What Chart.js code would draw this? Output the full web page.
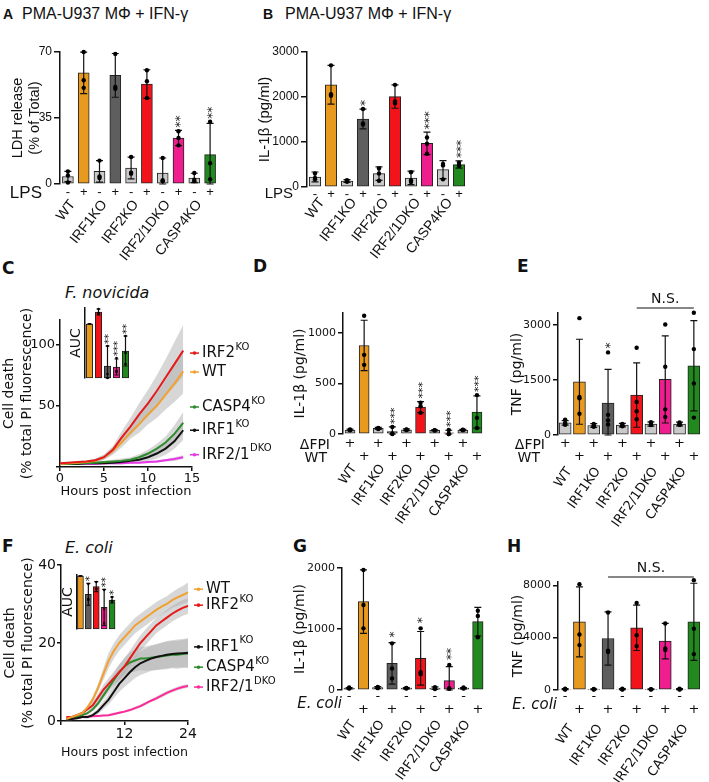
<!DOCTYPE html>
<html><head><meta charset="utf-8">
<script src="https://cdn.jsdelivr.net/npm/chart.js@4.4.0/dist/chart.umd.min.js"></script>
<style>
body{margin:0;background:#fff;}
#page{position:relative;width:709px;height:782px;overflow:hidden;background:#fff;}
#page canvas{position:absolute;}
.t{position:absolute;white-space:nowrap;color:#111;line-height:1;}
</style></head><body><div id="page">
<div class="t" style="left:3px;top:6px;font:bold 14px 'Liberation Sans'">A</div>
<div class="t" style="left:22px;top:5px;font:16px 'Liberation Sans'">PMA-U937 MΦ + IFN-γ</div>
<div class="t" style="left:263px;top:6px;font:bold 14px 'Liberation Sans'">B</div>
<div class="t" style="left:285px;top:5px;font:16px 'Liberation Sans'">PMA-U937 MΦ + IFN-γ</div>
<div class="t" style="left:2px;top:258px;font:bold 17px 'DejaVu Sans'">C</div>
<div class="t" style="left:65px;top:283px;font:italic 16px 'DejaVu Sans'">F. novicida</div>
<div class="t" style="left:253px;top:256px;font:bold 17px 'DejaVu Sans'">D</div>
<div class="t" style="left:517px;top:256px;font:bold 17px 'DejaVu Sans'">E</div>
<div class="t" style="left:2px;top:536px;font:bold 17px 'DejaVu Sans'">F</div>
<div class="t" style="left:65px;top:538px;font:italic 16px 'DejaVu Sans'">E. coli</div>
<div class="t" style="left:293px;top:536px;font:bold 17px 'DejaVu Sans'">G</div>
<div class="t" style="left:507px;top:536px;font:bold 17px 'DejaVu Sans'">H</div>
</div>
<script>
// ================= DATA =================
const genotypes = ['WT','IRF1KO','IRF2KO','IRF2/1DKO','CASP4KO'];
const lpsSigns   = ['-','+','-','+','-','+','-','+','-','+'];
const dfpiSigns  = ['+','','+','','+','','+','','+',''];
const wtSigns    = ['','+','','+','','+','','+','','+'];
const ecoliMinus = ['-','','-','','-','','-','','-',''];
const ecoliPlus  = ['','+','','+','','+','','+','','+'];

// A: LDH release (% of total)
const ldhMean = [4, 58.9, 6.7, 57.6, 8.5, 53, 5.8, 24.4, 3.2, 15.6];
const ldhSD   = [2.7, 11, 5.7, 11.6, 5.8, 7.6, 8, 4, 2.5, 16.5];
const ldhDots = [[6.7,4.5,0.8],[70,55,51],[12.4,4,3.2],[69,51.5,50.5],[14.3,6,5.5],[60.3,54.5,45.6],[13.8,2,1.5],[28,24.4,20.5],[5.8,2.3,1.5],[33,11,2.5]];
const ldhStars = ['','','','','','','','**','','**'];

// B: IL-1b LPS
const il1bLpsMean = [223, 2271, 134, 1511, 298, 2010, 201, 968, 387, 499];
const il1bLpsSD   = [110, 430, 30, 220, 150, 260, 150, 250, 200, 80];
const il1bLpsDots = [[300,200,170],[2703,2060,2030],[150,135,115],[1735,1415,1390],[410,300,140],[2270,1900,1860],[330,150,110],[1100,960,740],[510,480,170],[540,480,470]];
const il1bLpsStars = ['','','','*','','','','***','','***'];

// C: F. novicida cell death kinetics
const hoursC = [0,1,2,3,4,5,6,7,8,9,10,11,12,13,14];
const cIRF2  = [3,3.5,4,4.5,5.5,8,14,24,33,43,52,62,73,84,95];
const cWT    = [2.5,3,3.5,4,5,8,13,20,28,35,43,50,59,68,78];
const cCASP4 = [2.5,2.5,3,3,3.5,4,4.5,5,6,8,11,15,20,27,36];
const cIRF1  = [2.5,2.5,2.5,3,3,3,3.5,4,5,6,8,11,15,21,30];
const cDKO   = [2.5,2.5,2.5,2.5,2.5,3,3,3,3.5,3.5,4,4.5,5.5,6.5,8];
const cIRF2sd  = [1,1,1,1,1.5,2,3,5,7,9,11,13,15,18,21];
const cWTsd    = [1,1,1,1,1.5,2,3,4,5,7,8,10,12,15,18];
const cCASP4sd = [0.5,0.5,0.5,1,1,1,1.5,2,2,2.5,3,4,5,7,9];
const cIRF1sd  = [0.5,0.5,0.5,1,1,1,1.5,2,2,2.5,3,4,5,6,8];
const cDKOsd   = [0.5,0.5,0.5,0.5,0.5,0.5,0.5,0.5,0.5,0.5,1,1,1,1.5,1.5];
// C inset AUC (WT, IRF2KO, IRF1KO, IRF2/1DKO, CASP4KO)
const aucCMean = [54, 66, 12, 11, 27];
const aucCSD   = [0.5, 3, 20, 8, 15];
const aucCDots = [[],[69,65,64],[32,4,0],[20,7,6],[42,25,14]];
const aucCStars = ['','','**','***','**'];

// D: IL-1b F. novicida
const il1bFnMean = [40, 878, 55, 25, 42, 267, 36, 12, 40, 218];
const il1bFnSD   = [8, 250, 10, 45, 8, 55, 6, 25, 6, 160];
const il1bFnDots = [[45,40,36],[1172,785,686],[60,55,50],[70,5,0],[45,42,38],[310,275,210],[38,36,34],[40,0,0],[42,40,38],[386,160,60]];
const il1bFnStars = ['','','','***','','***','','***','','***'];

// E: TNF F. novicida
const tnfFnMean = [330, 1454, 260, 873, 270, 1091, 300, 1518, 300, 1891];
const tnfFnSD   = [60, 1160, 50, 920, 50, 880, 60, 1190, 50, 1230];
const tnfFnDots = [[420,330,280,300],[3190,1040,1000,580],[300,250,230,230],[2255,550,400,290],[300,260,240,250],[2381,900,650,430],[350,300,280,270],[3018,1864,700,490],[340,300,280,280],[3336,2345,1409,475]];
const tnfFnStars = ['','','','*','','','','','',''];

// F: E. coli cell death kinetics
const hoursF = [1,2,3,4,5,6,7,8,9,10,11,12,13,14,15,16,17,18,19,20,21,22,23,24];
const fWT    = [0.5,1,1.5,2,3.5,5.5,8.5,12,15.5,18,20,21.5,23,24.5,25.5,26.5,27.5,28.5,29.3,30,31,31.7,32.3,33];
const fIRF2  = [1,1,1.5,2,3,4,6,8,9.5,11,12.5,14,16,18,20,21.5,23,24.5,25.5,26.5,27.5,28.3,29,29.5];
const fIRF1  = [0.5,0.5,0.7,1,1,1.5,2.5,4,5.5,7.5,9.5,11,12.5,13.8,14.8,15.4,16,16.4,16.7,17,17.2,17.3,17.4,17.5];
const fCASP4 = [0.5,0.7,1,1.5,2,3,4.5,6.5,8.5,10.5,12.5,14,15,15.5,16,16,16.2,16.4,16.6,16.8,17,17,17.2,17.3];
const fDKO   = [0.5,0.6,0.8,1,1.1,1.2,1.3,1.4,1.5,1.8,2.1,2.4,2.8,3.3,3.8,4.5,5.2,5.8,6.5,7.2,7.8,8.3,8.7,9];
const fWTsd    = [0.3,0.3,0.3,0.4,0.5,0.8,1,1.5,2,2,2,2,2,2,2,2,2,2,2,2,2,2.2,2.3,2.5];
const fIRF2sd  = [0.3,0.3,0.3,0.4,0.5,0.8,1,1.3,1.5,1.7,2,2,2,2,2,2,2,2,2,2,2,2,2,2];
const fIRF1sd  = [0.3,0.3,0.3,0.3,0.4,0.5,0.8,1,1.3,1.6,2,2.3,2.6,2.8,3,3.1,3.2,3.3,3.4,3.5,3.5,3.6,3.6,3.7];
const fCASP4sd = [0.3,0.3,0.3,0.3,0.4,0.5,0.8,1,1.3,1.6,2,2.3,2.6,2.8,3,3.1,3.2,3.3,3.4,3.5,3.5,3.6,3.6,3.7];
const fDKOsd   = [0.2,0.2,0.2,0.2,0.2,0.2,0.2,0.2,0.3,0.3,0.3,0.3,0.3,0.4,0.4,0.4,0.4,0.5,0.5,0.5,0.5,0.5,0.5,0.5];
// F inset AUC (WT, IRF1KO, IRF2KO, IRF2/1DKO, CASP4KO)
const aucFMean = [53, 34.7, 42.3, 21.7, 29];
const aucFSD   = [0.5, 11, 5, 18, 3];
const aucFDots = [[],[45,30,29],[47,40,40],[39,20,6],[32,28,27]];
const aucFStars = ['','*','','**','*'];

// G: IL-1b E. coli
const il1bEcMean = [30, 1448, 40, 437, 30, 519, 30, 153, 30, 1120];
const il1bEcSD   = [10, 520, 15, 340, 10, 440, 20, 230, 10, 235];
const il1bEcDots = [[40,30,25],[1967,1393,1011],[50,40,30],[765,354,190],[35,30,25],[1011,290,260],[45,30,15],[410,30,20],[40,30,25],[1300,1213,864]];
const il1bEcStars = ['','','','*','','*','','**','',''];

// H: TNF E. coli
const tnfEcMean = [60, 5206, 50, 3937, 60, 4749, 50, 3733, 60, 5206];
const tnfEcSD   = [40, 2670, 30, 2030, 40, 1730, 30, 1350, 40, 2950];
const tnfEcDots = [[100,60,30],[8076,4241,3428],[80,50,30],[5918,2997,2900],[90,60,40],[6652,4190,3352],[70,50,30],[5079,3175,3048],[100,60,30],[8381,4675,2743]];

// ================= STYLE =================
const LG='#c9c9c9', OR='#E89A1F', DG='#5e5e5e', RD='#F2141A', PK='#EE1E8F', GR='#22891F';
const barColors = [LG,OR,LG,DG,LG,RD,LG,PK,LG,GR];

Chart.defaults.font.family = "'DejaVu Sans', sans-serif";
Chart.defaults.color = '#111';
const page = document.getElementById('page');

function mkCanvas(r){
  const c=document.createElement('canvas');
  c.width=r.w; c.height=r.h;
  c.style.left=r.x+'px'; c.style.top=r.y+'px'; c.style.width=r.w+'px'; c.style.height=r.h+'px';
  page.appendChild(c); return c;
}
function txt(ctx,s,x,y,font,align,base,color,rot){
  ctx.save(); ctx.font=font; ctx.fillStyle=color||'#111';
  ctx.textAlign=align||'center'; ctx.textBaseline=base||'middle';
  ctx.translate(x,y); if(rot) ctx.rotate(rot); ctx.fillText(s,0,0); ctx.restore();
}

function barPanel(o){
  const cv=mkCanvas(o.rect);
  const n=o.mean.length;
  const pts=[]; o.dots.forEach((a,i)=>a.forEach(v=>pts.push({x:i,y:v})));
  const ox=o.rect.x, oy=o.rect.y;
  const ex={
    id:'ex',
    afterDatasetDraw(chart,args){
      if(args.index!==0) return;
      const ctx=chart.ctx, xs=chart.scales.x, ys=chart.scales.y;
      ctx.save(); ctx.strokeStyle='#111'; ctx.lineWidth=o.errW||1.2;
      for(let i=0;i<n;i++){
        if(!o.sd[i]) continue;
        const x=xs.getPixelForValue(i);
        const yt=ys.getPixelForValue(o.mean[i]+o.sd[i]);
        const yb=ys.getPixelForValue(Math.max(0,o.mean[i]-o.sd[i]));
        const cw=o.cap;
        ctx.beginPath(); ctx.moveTo(x,yt); ctx.lineTo(x,yb);
        ctx.moveTo(x-cw,yt); ctx.lineTo(x+cw,yt);
        ctx.moveTo(x-cw,yb); ctx.lineTo(x+cw,yb); ctx.stroke();
      }
      ctx.restore();
    },
    afterDraw(chart){
      const ctx=chart.ctx, xs=chart.scales.x, ys=chart.scales.y;
      if(o.stars) for(let i=0;i<n;i++){
        const s=o.stars[i]; if(!s) continue;
        const top=Math.max(o.mean[i]+o.sd[i], ...o.dots[i]);
        const y=ys.getPixelForValue(top)-o.starGap;
        const x=xs.getPixelForValue(i);
        txt(ctx,s,x+o.starFont*0.22,y,o.starFont+'px DejaVu Sans','left','middle','#111',-Math.PI/2);
      }
      (o.rows||[]).forEach(r=>{
        if(r.label) txt(ctx,r.label,r.lx-ox,r.ly-oy,r.lfont,'right','middle');
        (r.signs||[]).forEach((s,i)=>{ if(s) txt(ctx,s,xs.getPixelForValue(i),r.y-oy,o.signFont,'center','middle'); });
      });
      if(o.cats) o.cats.forEach((c,j)=>{
        const cx=(xs.getPixelForValue(2*j)+xs.getPixelForValue(2*j+1))/2+o.catDx;
        txt(ctx,c,cx,o.catY-oy,o.catFont,'right','middle','#111',-o.catRot*Math.PI/180);
      });
      if(o.ns){
        const x0=xs.getPixelForValue(o.ns.from), x1=xs.getPixelForValue(o.ns.to), y=o.ns.y-oy;
        ctx.save(); ctx.strokeStyle='#111'; ctx.lineWidth=1.2; ctx.beginPath(); ctx.moveTo(x0,y); ctx.lineTo(x1,y); ctx.stroke(); ctx.restore();
        txt(ctx,'N.S.',(x0+x1)/2,y-9,'14px DejaVu Sans','center','middle');
      }
    }
  };
  return new Chart(cv,{
    type:'bar',
    data:{datasets:[
      {type:'bar',data:o.mean.map((v,i)=>({x:i,y:v})),backgroundColor:o.colors,borderColor:'#222',borderWidth:1,borderSkipped:false,barThickness:o.barW,order:2,clip:false},
      {type:'line',data:pts,showLine:false,pointRadius:o.dotR,pointHoverRadius:o.dotR,pointBackgroundColor:'#000',pointBorderColor:'#000',pointBorderWidth:0,order:1,clip:false}
    ]},
    options:{
      responsive:false,animation:false,devicePixelRatio:1,events:[],
      layout:{autoPadding:false,padding:{left:0,top:o.area.t-oy,right:ox+o.rect.w-o.area.r,bottom:oy+o.rect.h-o.area.b}},
      plugins:{legend:{display:false},tooltip:{enabled:false}},
      scales:{
        x:{type:'linear',display:false,offset:false,grid:{offset:false},min:-0.5,max:n-0.5},
        y:{type:'linear',min:0,max:o.yMax,
          afterBuildTicks:s=>{s.ticks=o.yTicks.map(v=>({value:v}));},
          afterFit:s=>{s.width=o.area.l-ox;},
          border:{display:true,color:'#111',width:1.5},
          grid:{display:!o.noTicks,drawOnChartArea:false,drawTicks:true,tickLength:o.tickLen||5,color:'#111',lineWidth:1.5},
          ticks:{display:!o.noTicks,font:o.tickFont,color:'#111',padding:2,callback:v=>String(v)},
          title:{display:true,text:o.title,font:o.titleFont,color:'#111',padding:{top:o.titlePad,bottom:0}}
        }
      }
    },
    plugins:[ex]
  });
}

function linePanel(o){
  const cv=mkCanvas(o.rect);
  const ox=o.rect.x, oy=o.rect.y;
  const ds=[];
  o.series.forEach(s=>{
    ds.push({data:o.hours.map((h,k)=>({x:h,y:s.v[k]-s.sd[k]})),borderWidth:0,pointRadius:0,fill:false,order:5,borderColor:'rgba(0,0,0,0)'});
    ds.push({data:o.hours.map((h,k)=>({x:h,y:s.v[k]+s.sd[k]})),borderWidth:0,pointRadius:0,fill:'-1',backgroundColor:'rgba(175,175,175,0.5)',order:5,borderColor:'rgba(0,0,0,0)'});
  });
  o.series.forEach(s=>ds.push({data:o.hours.map((h,k)=>({x:h,y:s.v[k]})),borderColor:s.color,borderWidth:2,pointRadius:0,fill:false,order:1,tension:0}));
  const ex={id:'lx',afterDraw(chart){
    const ctx=chart.ctx, ys=chart.scales.y, a=chart.chartArea;
    o.series.forEach(s=>{
      const y=ys.getPixelForValue(s.ly), x0=a.right+o.lblDx;
      ctx.save(); ctx.strokeStyle=s.color; ctx.fillStyle=s.color; ctx.lineWidth=1.5;
      ctx.beginPath(); ctx.moveTo(x0,y); ctx.lineTo(x0+9,y); ctx.stroke();
      ctx.beginPath(); ctx.arc(x0+4.5,y,1.8,0,2*Math.PI); ctx.fill(); ctx.restore();
      ctx.save(); ctx.font='15px DejaVu Sans'; ctx.fillStyle='#111'; ctx.textBaseline='middle'; ctx.textAlign='left';
      ctx.fillText(s.name,x0+12,y); const w=ctx.measureText(s.name).width;
      if(s.sup){ ctx.font='10px DejaVu Sans'; ctx.fillText(s.sup,x0+12+w+0.5,y-6); }
      ctx.restore();
    });
  }};
  return new Chart(cv,{type:'line',data:{datasets:ds},options:{
    responsive:false,animation:false,devicePixelRatio:1,events:[],
    layout:{autoPadding:false,padding:{left:0,top:o.area.t-oy,right:ox+o.rect.w-o.area.r,bottom:oy+o.rect.h-o.area.b-o.xH}},
    plugins:{legend:{display:false},tooltip:{enabled:false}},
    scales:{
      x:{type:'linear',min:0,max:o.xMax,offset:false,
        afterBuildTicks:s=>{s.ticks=o.xTicks.map(v=>({value:v}));},
        afterFit:s=>{s.height=o.xH;},
        border:{display:true,color:'#111',width:1.5},
        grid:{display:true,drawOnChartArea:false,drawTicks:true,tickLength:4,color:'#111',lineWidth:1.5},
        ticks:{font:{size:o.tickSize},color:'#111',padding:o.xTickPad,maxRotation:0,autoSkip:false,callback:v=>o.xHide.includes(v)?'':String(v)},
        title:{display:true,text:'Hours post infection',font:{size:13},color:'#111',padding:{top:0,bottom:o.xTitlePad}}},
      y:{type:'linear',min:0,max:o.yMax,
        afterBuildTicks:s=>{s.ticks=o.yTicks.map(v=>({value:v}));},
        afterFit:s=>{s.width=o.area.l-ox;},
        border:{display:true,color:'#111',width:1.5},
        grid:{display:true,drawOnChartArea:false,drawTicks:true,tickLength:4,color:'#111',lineWidth:1.5},
        ticks:{font:{size:o.tickSize},color:'#111',padding:1,callback:v=>o.yHide.includes(v)?'':String(v)},
        title:{display:true,text:['Cell death','(% total PI fluorescence)'],font:{size:14,lineHeight:1.3},color:'#111',padding:{top:o.titlePad,bottom:0}}}
    }
  },plugins:[ex]});
}

// ================= PANELS =================
const fLib=(s)=>({family:'Liberation Sans',size:s});
const fDej=(s)=>({family:'DejaVu Sans',size:s});

// A
barPanel({rect:{x:0,y:30,w:232,h:240},area:{l:60,t:52,r:218,b:184},
  mean:ldhMean,sd:ldhSD,dots:ldhDots,stars:ldhStars,colors:barColors,
  yMax:70,yTicks:[0,35,70],tickLen:6,tickFont:fLib(12),
  title:['LDH release','(% of Total)'],titleFont:{family:'Liberation Sans',size:14.5,lineHeight:1.15},titlePad:9.7,
  barW:11,dotR:2.2,cap:3.5,starFont:12,starGap:3,
  rows:[{signs:lpsSigns,y:192,label:'LPS',lx:42,ly:193,lfont:'17px Liberation Sans'}],signFont:'13px Liberation Sans',
  cats:genotypes,catY:202,catDx:-3,catRot:52,catFont:'14px Liberation Sans'});

// B
barPanel({rect:{x:232,y:30,w:240,h:240},area:{l:307,t:52,r:467,b:187},
  mean:il1bLpsMean,sd:il1bLpsSD,dots:il1bLpsDots,stars:il1bLpsStars,colors:barColors,
  yMax:3000,yTicks:[0,1000,2000,3000],tickLen:6,tickFont:fLib(12),
  title:'IL-1β (pg/ml)',titleFont:{family:'Liberation Sans',size:15,lineHeight:1.2},titlePad:24,
  barW:11.5,dotR:2.2,cap:3.5,starFont:12,starGap:3,
  rows:[{signs:lpsSigns,y:194,label:'LPS',lx:293,ly:194,lfont:'15px Liberation Sans'}],signFont:'13px Liberation Sans',
  cats:genotypes,catY:200,catDx:-1,catRot:52,catFont:'14px Liberation Sans'});

// C main
linePanel({rect:{x:0,y:295,w:292,h:215},area:{l:60,t:320,r:192,b:467},
  hours:hoursC,xMax:15,xTicks:[0,5,10,15],xHide:[],yMax:120,yTicks:[0,50,100],yHide:[0],
  xH:36,xTickPad:0,xTitlePad:3.2,tickSize:13,titlePad:0,lblDx:-2,
  series:[
    {v:cIRF2,sd:cIRF2sd,color:'#E51A1A',name:'IRF2',sup:'KO',ly:93},
    {v:cWT,sd:cWTsd,color:'#F2A030',name:'WT',sup:'',ly:77.5},
    {v:cCASP4,sd:cCASP4sd,color:'#2E8B2E',name:'CASP4',sup:'KO',ly:49},
    {v:cIRF1,sd:cIRF1sd,color:'#111111',name:'IRF1',sup:'KO',ly:30},
    {v:cDKO,sd:cDKOsd,color:'#E835E8',name:'IRF2/1',sup:'DKO',ly:10}
  ]});
// C inset
barPanel({rect:{x:64,y:298,w:72,h:90},area:{l:85,t:308,r:130,b:378},
  mean:aucCMean,sd:aucCSD,dots:aucCDots,stars:aucCStars,colors:[OR,RD,DG,PK,GR],
  yMax:70,yTicks:[0],noTicks:true,tickFont:fDej(10),
  title:'AUC',titleFont:{family:'DejaVu Sans',size:14,lineHeight:1.2},titlePad:3.6,
  barW:6.5,dotR:1.3,cap:2,starFont:10,starGap:2});

// D
barPanel({rect:{x:236,y:292,w:254,h:248},area:{l:343,t:313,r:484,b:434},
  mean:il1bFnMean,sd:il1bFnSD,dots:il1bFnDots,stars:il1bFnStars,colors:barColors,
  yMax:1200,yTicks:[0,500,1000],tickLen:5,tickFont:fDej(11),
  title:'IL-1β (pg/ml)',titleFont:{family:'DejaVu Sans',size:14,lineHeight:1.2},titlePad:55.6,
  barW:10,dotR:2.2,cap:3.5,starFont:11,starGap:3,
  rows:[{signs:dfpiSigns,y:444,label:'ΔFPI',lx:330,ly:445,lfont:'14px DejaVu Sans'},
        {signs:wtSigns,y:457,label:'WT',lx:327,ly:458,lfont:'14px DejaVu Sans'}],signFont:'13px DejaVu Sans',
  cats:genotypes,catY:466,catDx:-3,catRot:55,catFont:'13px DejaVu Sans'});

// E
barPanel({rect:{x:476,y:280,w:233,h:260},area:{l:558,t:313,r:701,b:435},
  mean:tnfFnMean,sd:tnfFnSD,dots:tnfFnDots,stars:tnfFnStars,colors:barColors,
  yMax:3330,yTicks:[0,1500,3000],tickLen:5,tickFont:fDej(11),
  title:'TNF (pg/ml)',titleFont:{family:'DejaVu Sans',size:14,lineHeight:1.2},titlePad:32.6,
  barW:12,dotR:2.2,cap:3.5,starFont:12,starGap:4,
  rows:[{signs:dfpiSigns,y:444,label:'ΔFPI',lx:545,ly:445,lfont:'14px DejaVu Sans'},
        {signs:wtSigns,y:457,label:'WT',lx:540,ly:458,lfont:'14px DejaVu Sans'}],signFont:'13px DejaVu Sans',
  cats:genotypes,catY:469,catDx:-3,catRot:55,catFont:'13px DejaVu Sans',
  ns:{from:5,to:9,y:308}});

// F main
linePanel({rect:{x:0,y:550,w:292,h:232},area:{l:61,t:565,r:188,b:721},
  hours:hoursF,xMax:24,xTicks:[0,12,24],xHide:[0],yMax:40,yTicks:[0,20,40],yHide:[],
  xH:45,xTickPad:1,xTitlePad:5.2,tickSize:14,titlePad:1,lblDx:6,
  series:[
    {v:fWT,sd:fWTsd,color:'#F2A030',name:'WT',sup:'',ly:33.8},
    {v:fIRF2,sd:fIRF2sd,color:'#E51A1A',name:'IRF2',sup:'KO',ly:29.7},
    {v:fIRF1,sd:fIRF1sd,color:'#111111',name:'IRF1',sup:'KO',ly:19},
    {v:fCASP4,sd:fCASP4sd,color:'#2E8B2E',name:'CASP4',sup:'KO',ly:13.8},
    {v:fDKO,sd:fDKOsd,color:'#FF2A9A',name:'IRF2/1',sup:'DKO',ly:8.7}
  ]});
// F inset
barPanel({rect:{x:50,y:568,w:75,h:70},area:{l:76.5,t:575,r:116,b:629},
  mean:aucFMean,sd:aucFSD,dots:aucFDots,stars:aucFStars,colors:[OR,DG,RD,PK,GR],
  yMax:54,yTicks:[0],noTicks:true,tickFont:fDej(10),
  title:'AUC',titleFont:{family:'DejaVu Sans',size:14,lineHeight:1.2},titlePad:10.1,
  barW:6,dotR:1.2,cap:2,starFont:10,starGap:2});

// G
barPanel({rect:{x:236,y:545,w:250,h:237},area:{l:342,t:568,r:485,b:690},
  mean:il1bEcMean,sd:il1bEcSD,dots:il1bEcDots,stars:il1bEcStars,colors:barColors,
  yMax:2000,yTicks:[0,1000,2000],tickLen:5,tickFont:fDej(11),
  title:'IL-1β (pg/ml)',titleFont:{family:'DejaVu Sans',size:14,lineHeight:1.2},titlePad:55.6,
  barW:10.5,dotR:2.2,cap:3.5,starFont:12,starGap:5,
  rows:[{signs:ecoliMinus,y:697},{signs:ecoliPlus,y:710},{label:'E. coli',lx:342,ly:704,lfont:'italic 15px DejaVu Sans'}],signFont:'13px DejaVu Sans',
  cats:genotypes,catY:722,catDx:-3,catRot:55,catFont:'13px DejaVu Sans'});

// H
barPanel({rect:{x:476,y:545,w:233,h:237},area:{l:558,t:582,r:701,b:690},
  mean:tnfEcMean,sd:tnfEcSD,dots:tnfEcDots,colors:barColors,
  yMax:8250,yTicks:[0,4000,8000],tickLen:5,tickFont:fDej(11),
  title:'TNF (pg/ml)',titleFont:{family:'DejaVu Sans',size:14,lineHeight:1.2},titlePad:33.6,
  barW:12,dotR:2.2,cap:3.5,starFont:12,starGap:3,
  rows:[{signs:ecoliMinus,y:697},{signs:ecoliPlus,y:710},{label:'E. coli',lx:557,ly:705,lfont:'italic 15px DejaVu Sans'}],signFont:'13px DejaVu Sans',
  cats:genotypes,catY:726,catDx:-1,catRot:55,catFont:'13px DejaVu Sans',
  ns:{from:3,to:9,y:577}});
</script>
</body></html>
